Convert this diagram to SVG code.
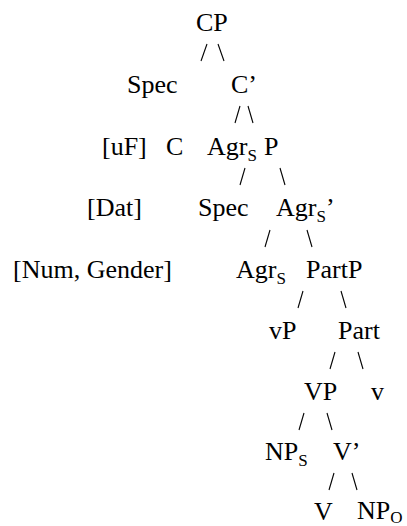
<svg xmlns="http://www.w3.org/2000/svg" width="407" height="526" viewBox="0 0 407 526">
<style>
text{font-family:"Liberation Serif","Times New Roman",serif;font-size:26px;fill:#000}
.sub{font-size:17px}
#connectors line{stroke:#000;stroke-width:1.1}
</style>
<rect width="407" height="526" fill="#fff"/>
<g id="connectors">
<line x1="201" y1="61" x2="207" y2="44"/><line x1="218" y1="44" x2="224" y2="61"/>
<line x1="235" y1="123" x2="240" y2="106"/><line x1="248" y1="106" x2="253" y2="123"/>
<line x1="240" y1="185" x2="245" y2="168"/><line x1="280" y1="168" x2="285" y2="185"/>
<line x1="265" y1="247" x2="270" y2="230"/><line x1="307" y1="230" x2="312" y2="247"/>
<line x1="298" y1="308" x2="303" y2="291"/><line x1="341" y1="291" x2="346" y2="308"/>
<line x1="330" y1="369" x2="335" y2="352"/><line x1="358" y1="352" x2="363" y2="369"/>
<line x1="299" y1="430" x2="304" y2="413"/><line x1="327" y1="413" x2="332" y2="430"/>
<line x1="329" y1="490" x2="334" y2="473"/><line x1="352" y1="473" x2="357" y2="490"/>
</g>
<g id="n-cp"><text x="196" y="31">CP</text></g>
<g id="n-spec1"><text x="127" y="93">Spec</text></g>
<g id="n-cbar"><text x="231" y="93">C’</text></g>
<g id="n-uf"><text x="102" y="155">[uF]</text></g>
<g id="n-c"><text x="166" y="155">C</text></g>
<g id="n-agrsp"><text x="207" y="155">Agr<tspan class="sub" dy="6">S</tspan><tspan dy="-6" x="264">P</tspan></text></g>
<g id="n-dat"><text x="87" y="216">[Dat]</text></g>
<g id="n-spec2"><text x="198" y="216">Spec</text></g>
<g id="n-agrsbar"><text x="276" y="216">Agr<tspan class="sub" dy="6">S</tspan><tspan dy="-6">’</tspan></text></g>
<g id="n-num"><text x="13" y="278">[Num, Gender]</text></g>
<g id="n-agrs"><text x="236" y="278">Agr<tspan class="sub" dy="6">S</tspan></text></g>
<g id="n-partp"><text x="306" y="278">PartP</text></g>
<g id="n-vp-small"><text x="269" y="339">vP</text></g>
<g id="n-part"><text x="338" y="339">Part</text></g>
<g id="n-VP"><text x="304" y="400">VP</text></g>
<g id="n-v-small"><text x="371" y="400">v</text></g>
<g id="n-nps"><text x="265" y="460">NP<tspan class="sub" dy="6">S</tspan></text></g>
<g id="n-vbar"><text x="333" y="460">V’</text></g>
<g id="n-V"><text x="314" y="520">V</text></g>
<g id="n-npo"><text x="357" y="519">NP<tspan class="sub" dy="4">O</tspan></text></g>
</svg>
